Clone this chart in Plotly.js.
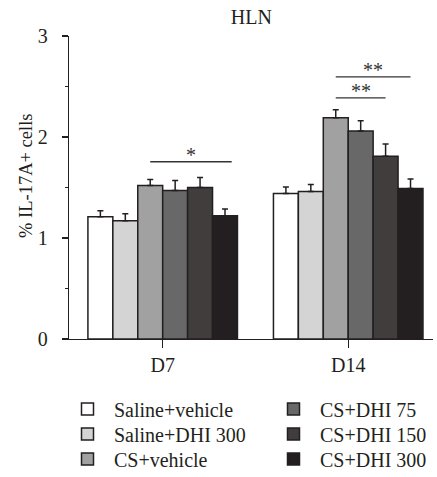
<!DOCTYPE html>
<html>
<head>
<meta charset="utf-8">
<script src="https://cdn.plot.ly/plotly-3.0.1.min.js"></script>
<style>html,body{margin:0;padding:0;background:#fff;}#chart{width:437px;height:477px;}</style>
</head>
<body>
<div id="chart"></div>
<script>
// ---- data ----
const categories = ['D7', 'D14'];
const seriesNames = ['Saline+vehicle', 'Saline+DHI 300', 'CS+vehicle', 'CS+DHI 75', 'CS+DHI 150', 'CS+DHI 300'];
const salineVehicle = [1.21, 1.44];
const salineDHI300 = [1.17, 1.46];
const csVehicle = [1.52, 2.19];
const csDHI75 = [1.47, 2.06];
const csDHI150 = [1.50, 1.81];
const csDHI300 = [1.22, 1.49];
const errSalineVehicle = [0.06, 0.065];
const errSalineDHI300 = [0.07, 0.07];
const errCsVehicle = [0.06, 0.08];
const errCsDHI75 = [0.10, 0.10];
const errCsDHI150 = [0.10, 0.12];
const errCsDHI300 = [0.066, 0.095];
// significance brackets: group index, from bar, to bar, level, label
const sigGroup = [0, 1, 1];
const sigFrom = [2, 2, 2];
const sigTo = [5.27, 5, 4];
const sigLevel = [1.755, 2.595, 2.387];
const sigLabel = ['*', '**', '**'];
const yTickVals = [0, 1, 2, 3];
const yTitle = '% IL-17A+ cells';

// ---- styles ----
const colors = ['#ffffff', '#d4d4d4', '#a1a1a1', '#686868', '#413d3c', '#231f20'];
const values = [salineVehicle, salineDHI300, csVehicle, csDHI75, csDHI150, csDHI300];
const errs = [errSalineVehicle, errSalineDHI300, errCsVehicle, errCsDHI75, errCsDHI150, errCsDHI300];
const dark = '#231f20';
const fontFam = '"Liberation Serif", "DejaVu Serif", serif';
const bargap = 0.194;
const nBars = seriesNames.length;
const bw = (1 - bargap) / nBars;
// legend placement (px): columns and rows
const legColX = [61, 267];
const legRowY = [409, 434, 459];
const W = 437, H = 477, ML = 69, MR = 4, MT = 36, MB = 138;

const legendIds = seriesNames.map((_, i) => i === 0 ? 'legend' : 'legend' + (i + 1));

const traces = seriesNames.map((name, i) => ({
  type: 'bar',
  name: name,
  x: categories,
  y: values[i],
  marker: {color: colors[i], line: {color: dark, width: 1.5}},
  error_y: {type: 'data', symmetric: false, array: errs[i], arrayminus: errs[i].map(() => 0),
            color: dark, thickness: 1.5, width: 3},
  legend: legendIds[i]
}));

function barPos(g, i) { return g + (i - (nBars - 1) / 2) * bw; }

const shapes = sigLevel.map((lv, k) => ({
  type: 'line', xref: 'x', yref: 'y',
  x0: barPos(sigGroup[k], sigFrom[k]), x1: barPos(sigGroup[k], sigTo[k]),
  y0: lv, y1: lv,
  line: {color: '#333', width: 1.3}
}));
const annotations = sigLevel.map((lv, k) => ({
  xref: 'x', yref: 'y',
  x: (barPos(sigGroup[k], sigFrom[k]) + barPos(sigGroup[k], sigTo[k])) / 2,
  y: lv, yanchor: 'bottom', text: sigLabel[k], showarrow: false,
  font: {family: fontFam, size: 20, color: '#333'}, yshift: -6
}));
annotations.push({
  xref: 'paper', yref: 'paper', x: (26 - ML) / (W - ML - MR), y: (H - MB - 176) / (H - MT - MB),
  xanchor: 'center', yanchor: 'middle', textangle: -90, showarrow: false,
  text: yTitle, font: {family: fontFam, size: 18.5, color: dark}
});

const layout = {
  width: W, height: H,
  margin: {l: ML, r: MR, t: MT, b: MB},
  paper_bgcolor: '#fff', plot_bgcolor: '#fff',
  title: {text: 'HLN', font: {family: fontFam, size: 20, color: dark}, x: 0.575, xanchor: 'center',
          y: 1 - 17 / H, yanchor: 'middle', yref: 'container'},
  barmode: 'group', bargap: bargap, bargroupgap: 0,
  font: {family: fontFam, color: dark},
  xaxis: {
    type: 'category', range: [-0.505, 1.457], showline: true, linecolor: dark, linewidth: 1.3,
    ticks: 'outside', ticklen: 8, tickwidth: 1.3, tickcolor: dark,
    tickfont: {family: fontFam, size: 20, color: dark}, showgrid: false, zeroline: false
  },
  yaxis: {
    range: [0, 3], tickvals: yTickVals, showline: true, linecolor: dark, linewidth: 1.3,
    ticks: 'outside', ticklen: 6, tickwidth: 1.3, tickcolor: dark, ticklabelstandoff: 10,
    minor: {dtick: 0.5, ticks: 'outside', ticklen: 3, tickcolor: dark, tickwidth: 1},
    tickfont: {family: fontFam, size: 20, color: dark}, showgrid: false, zeroline: false
  },
  shapes: shapes,
  annotations: annotations,
  showlegend: true
};

legendIds.forEach((id, i) => {
  const col = Math.floor(i / 3), row = i % 3;
  layout[id] = {
    orientation: 'v', xref: 'paper', yref: 'container', yanchor: 'middle', xanchor: 'left',
    x: (legColX[col] - ML) / (W - ML - MR), y: 1 - legRowY[row] / H,
    font: {family: fontFam, size: 20, color: dark}, bgcolor: 'rgba(0,0,0,0)',
    itemwidth: 43, tracegroupgap: 0, itemclick: false
  };
});

Plotly.newPlot('chart', traces, layout, {displayModeBar: false, staticPlot: true});
</script>
</body>
</html>
